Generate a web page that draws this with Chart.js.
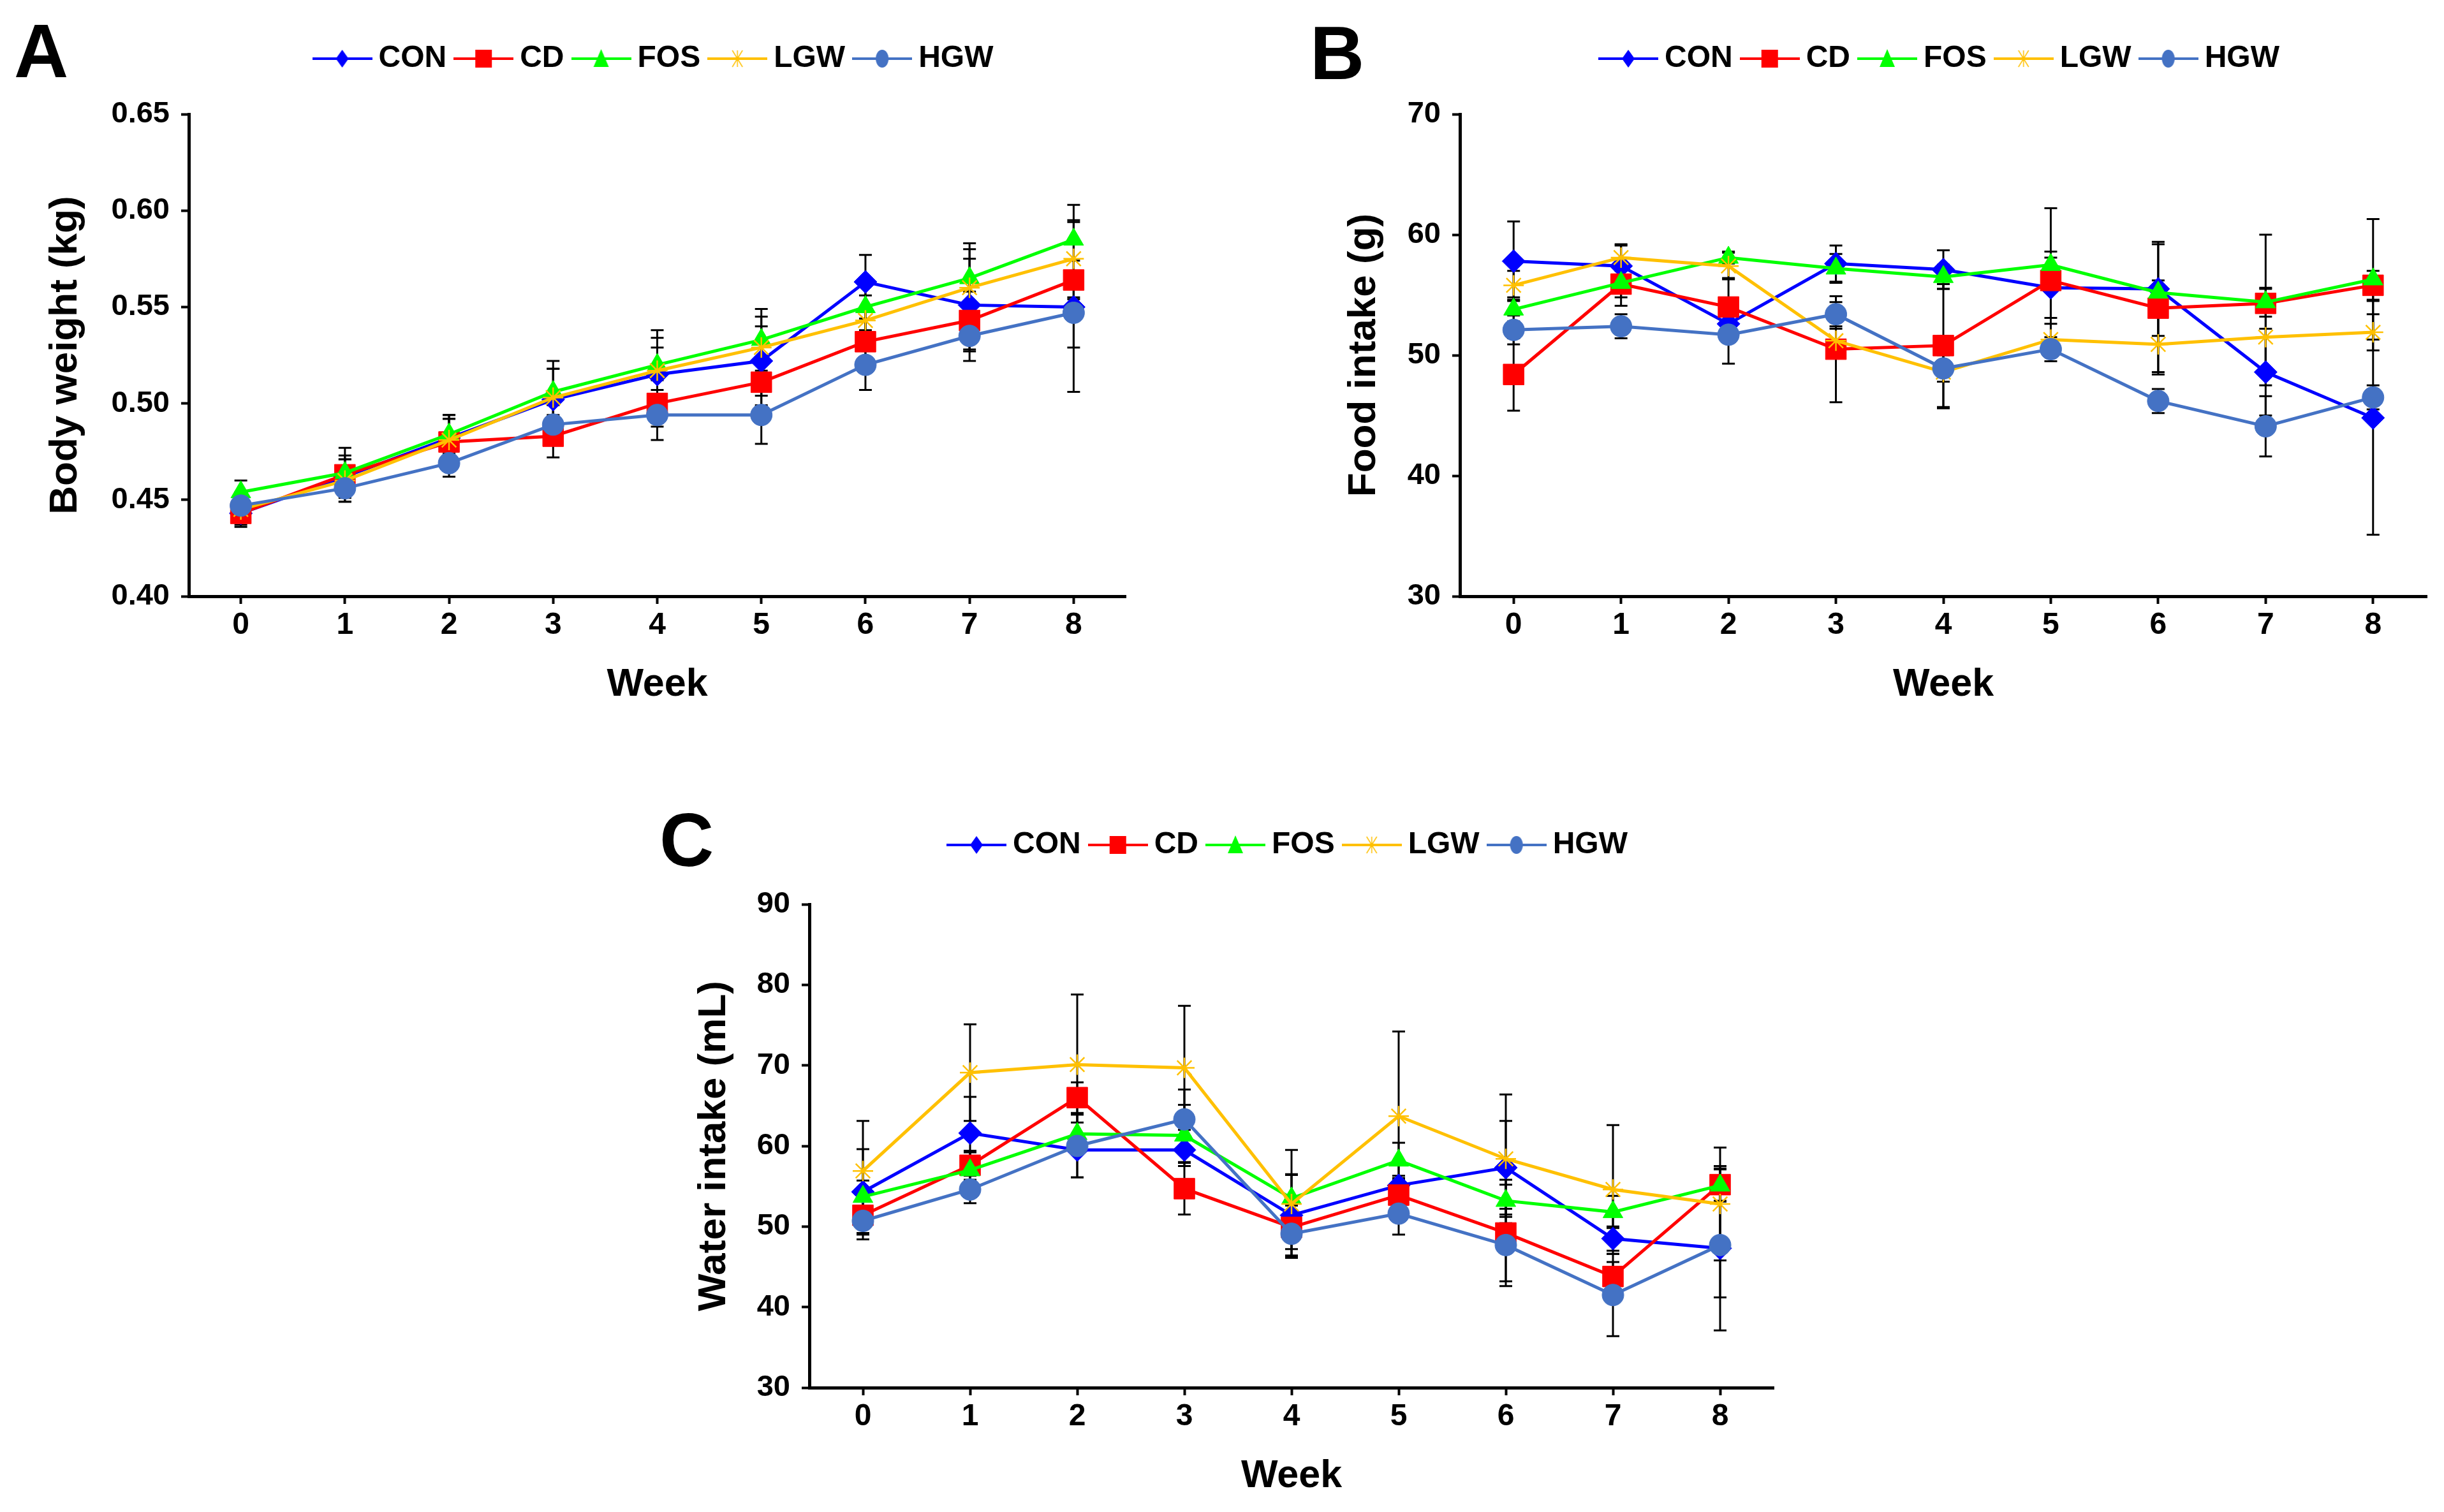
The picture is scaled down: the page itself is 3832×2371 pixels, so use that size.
<!DOCTYPE html>
<html>
<head>
<meta charset="utf-8">
<script src="https://cdn.jsdelivr.net/npm/chart.js@4.4.1/dist/chart.umd.min.js"></script>
<style>
  html, body { margin: 0; padding: 0; background: #fff; }
  body { width: 3832px; height: 2371px; position: relative; overflow: hidden;
         font-family: 'Liberation Sans', Arial, sans-serif; }
  canvas { position: absolute; }
  .tag { position: absolute; font-weight: bold; font-size: 118px; line-height: 118px; color: #000; }
</style>
</head>
<body>
<div class="tag" style="left:22px;top:21px">A</div>
<div class="tag" style="left:2054px;top:24px">B</div>
<div class="tag" style="left:1034px;top:1258px">C</div>
<canvas id="graficoA" width="1800" height="1130" style="left:0;top:0"></canvas>
<canvas id="graficoB" width="1796" height="1130" style="left:2036px;top:0"></canvas>
<canvas id="graficoC" width="1799" height="1171" style="left:1017px;top:1200px"></canvas>
<script>
var weeks = [0, 1, 2, 3, 4, 5, 6, 7, 8];
var groups = ['CON', 'CD', 'FOS', 'LGW', 'HGW'];

// A - body weight (kg), mean and SD
var bwTicks = [0.40, 0.45, 0.50, 0.55, 0.60, 0.65];
var bwCON = [0.443, 0.462, 0.482, 0.502, 0.515, 0.522, 0.563, 0.551, 0.550];
var bwCD  = [0.443, 0.463, 0.480, 0.483, 0.500, 0.511, 0.532, 0.543, 0.564];
var bwFOS = [0.454, 0.464, 0.484, 0.506, 0.520, 0.533, 0.550, 0.565, 0.585];
var bwLGW = [0.445, 0.460, 0.481, 0.503, 0.517, 0.529, 0.543, 0.560, 0.575];
var bwHGW = [0.447, 0.456, 0.469, 0.489, 0.494, 0.494, 0.520, 0.535, 0.547];
var bwCONsd = [0.007, 0.009, 0.012, 0.016, 0.014, 0.018, 0.014, 0.024, 0.044];
var bwCDsd  = [0.006, 0.010, 0.012, 0.011, 0.012, 0.012, 0.012, 0.015, 0.010];
var bwFOSsd = [0.006, 0.013, 0.010, 0.016, 0.018, 0.016, 0.012, 0.018, 0.018];
var bwLGWsd = [0.006, 0.011, 0.011, 0.015, 0.017, 0.016, 0.013, 0.020, 0.020];
var bwHGWsd = [0.007, 0.007, 0.007, 0.010, 0.013, 0.015, 0.013, 0.013, 0.018];

// B - food intake (g)
var fiTicks = [30, 40, 50, 60, 70];
var fiCON = [57.8, 57.4, 52.6, 57.6, 57.1, 55.6, 55.5, 48.6, 44.8];
var fiCD  = [48.4, 55.9, 54.0, 50.5, 50.8, 56.2, 53.9, 54.3, 55.8];
var fiFOS = [53.8, 56.0, 58.1, 57.2, 56.5, 57.5, 55.2, 54.4, 56.3];
var fiLGW = [55.8, 58.1, 57.4, 51.2, 48.6, 51.3, 50.9, 51.5, 51.9];
var fiHGW = [52.1, 52.4, 51.7, 53.4, 48.9, 50.5, 46.2, 44.1, 46.5];
var fiCONsd = [3.3, 1.7, 1.5, 1.5, 1.6, 2.5, 3.9, 3.6, 9.7];
var fiCDsd  = [3.0, 1.8, 2.4, 4.4, 5.1, 6.0, 5.3, 5.7, 1.2];
var fiFOSsd = [1.0, 1.2, 0.5, 1.2, 1.0, 1.1, 1.0, 1.2, 5.0];
var fiLGWsd = [1.2, 1.1, 1.1, 1.0, 3.0, 1.3, 2.5, 4.0, 1.5];
var fiHGWsd = [1.2, 1.0, 2.4, 1.0, 1.1, 1.0, 1.0, 2.5, 1.0];

// C - water intake (mL)
var wiTicks = [30, 40, 50, 60, 70, 80, 90];
var wiCON = [54.3, 61.6, 59.5, 59.5, 51.4, 55.1, 57.3, 48.5, 47.3];
var wiCD  = [51.4, 57.6, 66.0, 54.7, 49.9, 53.9, 49.2, 43.8, 55.2];
var wiFOS = [53.7, 57.0, 61.5, 61.3, 53.5, 58.2, 53.2, 51.8, 55.1];
var wiLGW = [56.9, 69.1, 70.1, 69.7, 52.8, 63.7, 58.4, 54.6, 52.8];
var wiHGW = [50.7, 54.6, 60.0, 63.3, 49.1, 51.6, 47.7, 41.5, 47.7];
var wiCONsd = [5.3, 4.5, 3.4, 1.5, 5.0, 1.2, 5.8, 1.5, 10.2];
var wiCDsd  = [3.0, 1.8, 1.9, 3.2, 2.7, 2.0, 6.6, 1.8, 2.0];
var wiFOSsd = [2.0, 2.2, 2.4, 3.8, 3.0, 2.2, 2.0, 2.0, 2.0];
var wiLGWsd = [6.2, 6.0, 8.7, 7.7, 6.7, 10.5, 8.0, 8.0, 7.0];
var wiHGWsd = [1.5, 1.7, 3.9, 3.7, 2.8, 2.6, 4.5, 5.1, 6.5];

var colors = ['#0000FF', '#FF0000', '#00FF00', '#FFC000', '#4472C4'];
var markers = ['rectRot', 'rect', 'triangle', 'star', 'circle'];
var markerRadius = [18, 23, 18, 16, 17];

Chart.defaults.font.family = "'Liberation Sans', Arial, sans-serif";
Chart.defaults.font.weight = 'bold';
Chart.defaults.color = '#000';

// small picture for a legend entry: line with the marker on top (Excel style)
function legendIcon(i) {
  var c = document.createElement('canvas');
  c.width = 94; c.height = 36;
  var g = c.getContext('2d');
  var cx = 47, cy = 18;
  g.strokeStyle = colors[i]; g.fillStyle = colors[i];
  g.lineWidth = 4;
  g.beginPath(); g.moveTo(0, cy); g.lineTo(94, cy); g.stroke();
  g.beginPath();
  if (markers[i] === 'rectRot') {
    g.moveTo(cx, cy - 14); g.lineTo(cx + 10, cy); g.lineTo(cx, cy + 14); g.lineTo(cx - 10, cy);
    g.closePath(); g.fill();
  } else if (markers[i] === 'rect') {
    g.fillRect(cx - 13, cy - 14, 26, 28);
  } else if (markers[i] === 'triangle') {
    g.moveTo(cx, cy - 15); g.lineTo(cx + 12, cy + 13); g.lineTo(cx - 12, cy + 13);
    g.closePath(); g.fill();
  } else if (markers[i] === 'star') {
    g.lineWidth = 1.5;
    g.moveTo(cx - 8, cy - 13); g.lineTo(cx + 8, cy + 13);
    g.moveTo(cx + 8, cy - 13); g.lineTo(cx - 8, cy + 13);
    g.moveTo(cx, cy - 13); g.lineTo(cx, cy + 13);
    g.stroke();
  } else {
    g.ellipse(cx, cy, 10, 14, 0, 0, Math.PI * 2); g.fill();
  }
  return c;
}

// extra room between the legend and the plot
var legendGap = {
  id: 'legendGap',
  beforeLayout: function(chart, args, opts) {
    var lg = chart.legend;
    if (lg && !lg._gapPatched) {
      var fit = lg.fit;
      lg.fit = function() { fit.call(this); this.height += opts.gap || 0; };
      lg._gapPatched = true;
    }
  }
};

// mean +/- SD whiskers, black, under the markers
var errorBars = {
  id: 'errorBars',
  beforeDatasetsDraw: function(chart) {
    var ctx = chart.ctx, y = chart.scales.y;
    ctx.save();
    ctx.strokeStyle = '#000';
    ctx.lineWidth = 3;
    chart.data.datasets.forEach(function(ds, i) {
      var meta = chart.getDatasetMeta(i);
      meta.data.forEach(function(pt, j) {
        var v = ds.data[j].y, e = ds.errors[j];
        var top = y.getPixelForValue(v + e), bot = y.getPixelForValue(v - e);
        ctx.beginPath();
        ctx.moveTo(pt.x, top); ctx.lineTo(pt.x, bot);
        ctx.moveTo(pt.x - 10, top); ctx.lineTo(pt.x + 10, top);
        ctx.moveTo(pt.x - 10, bot); ctx.lineTo(pt.x + 10, bot);
        ctx.stroke();
      });
    });
    ctx.restore();
  }
};

function axisStyle() {
  return {
    grid: { drawOnChartArea: false, drawTicks: true, tickLength: 12, tickWidth: 4, tickColor: '#000' },
    border: { display: true, color: '#000', width: 5 }
  };
}

function criaGrafico(id, series, sds, yTicks, decimals, yTitle, yWidth, pad, gap) {
  var ctx = document.getElementById(id).getContext('2d');
  var datasets = series.map(function(vals, i) {
    return {
      label: groups[i],
      data: weeks.map(function(w, j) { return { x: w, y: vals[j] }; }),
      errors: sds[i],
      borderColor: colors[i],
      backgroundColor: colors[i],
      borderWidth: 5,
      pointStyle: markers[i],
      pointRadius: markerRadius[i],
      pointHoverRadius: markerRadius[i],
      pointBackgroundColor: colors[i],
      pointBorderColor: colors[i],
      pointBorderWidth: markers[i] === 'star' ? 2.5 : 1,
      tension: 0,
      order: 5 - i
    };
  });
  var xs = axisStyle(), ys = axisStyle();
  return new Chart(ctx, {
    type: 'line',
    data: { datasets: datasets },
    plugins: [legendGap, errorBars],
    options: {
      responsive: false,
      animation: false,
      devicePixelRatio: 1,
      layout: { padding: pad },
      plugins: {
        tooltip: { enabled: false },
        legendGap: { gap: gap },
        legend: {
          fullSize: false,
          labels: {
            usePointStyle: true,
            pointStyleWidth: 66,
            padding: 25,
            font: { size: 48, weight: 'bold' },
            generateLabels: function(chart) {
              return chart.data.datasets.map(function(ds, i) {
                return { text: ds.label, pointStyle: legendIcon(i), fillStyle: colors[i],
                         strokeStyle: colors[i], lineWidth: 0, hidden: false, datasetIndex: i };
              });
            }
          }
        }
      },
      scales: {
        x: {
          type: 'linear', min: -0.5, max: 8.5,
          afterBuildTicks: function(s) { s.ticks = weeks.map(function(v) { return { value: v }; }); },
          afterFit: function(s) { s.height = 195; },
          ticks: { font: { size: 48 }, padding: 5, callback: function(v) { return String(v); } },
          grid: xs.grid, border: xs.border,
          title: { display: true, text: 'Week', font: { size: 61 }, padding: { top: 0, bottom: 19 } }
        },
        y: {
          type: 'linear', min: yTicks[0], max: yTicks[yTicks.length - 1],
          afterBuildTicks: function(s) { s.ticks = yTicks.map(function(v) { return { value: v }; }); },
          afterFit: function(s) { s.width = yWidth; },
          ticks: { font: { size: 47 }, padding: 18, callback: function(v) { return v.toFixed(decimals); } },
          grid: ys.grid, border: ys.border,
          title: { display: true, text: yTitle, font: { size: 62 }, padding: { top: 66, bottom: 0 } }
        }
      }
    }
  });
}

criaGrafico('graficoA', [bwCON, bwCD, bwFOS, bwLGW, bwHGW],
  [bwCONsd, bwCDsd, bwFOSsd, bwLGWsd, bwHGWsd], bwTicks, 2, 'Body weight (kg)', 296,
  { top: 43, left: 0, right: 35, bottom: 0 }, 53);

criaGrafico('graficoB', [fiCON, fiCD, fiFOS, fiLGW, fiHGW],
  [fiCONsd, fiCDsd, fiFOSsd, fiLGWsd, fiHGWsd], fiTicks, 0, 'Food intake (g)', 253,
  { top: 43, left: 0, right: 27, bottom: 0 }, 53);

criaGrafico('graficoC', [wiCON, wiCD, wiFOS, wiLGW, wiHGW],
  [wiCONsd, wiCDsd, wiFOSsd, wiLGWsd, wiHGWsd], wiTicks, 0, 'Water intake (mL)', 252,
  { top: 76, left: 0, right: 35, bottom: 0 }, 59);
</script>
</body>
</html>
